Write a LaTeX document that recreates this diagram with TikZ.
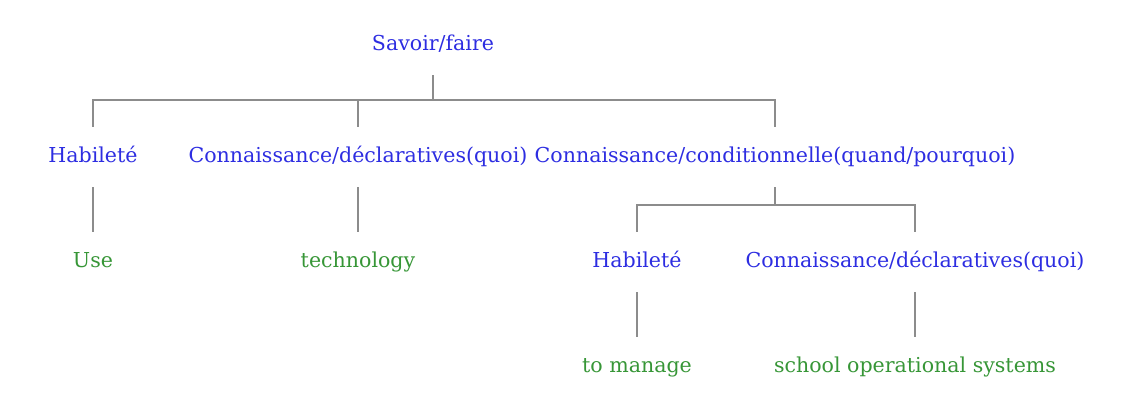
\documentclass[tikz,border=0pt]{standalone}
\usepackage{fontspec}
\setmainfont{DejaVu Serif}
\usepackage{tikz}

\definecolor{termblue}{RGB}{45,45,225}
\definecolor{termgreen}{RGB}{55,150,55}
\definecolor{linegray}{RGB}{140,140,140}

\tikzset{
	term/.style={text=termblue, inner xsep=0pt, inner ysep=12.4pt, text height=1.5ex, text depth=.25ex, font=\fontsize{11.7}{13}\selectfont},
	leaf/.style={term, text=termgreen},
	edge/.style={draw=linegray, line width=0.9pt}
}

\begin{document}
\begin{tikzpicture}[x=0.02cm, y=-0.02cm]
\useasboundingbox (0,0) rectangle (1132,397);

% top
\node[term] (savoir) at (433,45) {Savoir/faire};
\coordinate (j0) at (433,100);

% second row
\node[term] (hab1) at (93,157) {Habileté};
\node[term] (decl1) at (358,157) {Connaissance/déclaratives(quoi)};
\node[term] (cond) at (775,157) {Connaissance/conditionnelle(quand/pourquoi)};
\coordinate (j1) at (775,205);

% third row
\node[leaf] (use) at (93,262) {Use};
\node[leaf] (tech) at (358,262) {technology};
\node[term] (hab2) at (637,262) {Habileté};
\node[term] (decl2) at (915,262) {Connaissance/déclaratives(quoi)};

% bottom
\node[leaf] (manage) at (637,367) {to manage};
\node[leaf] (school) at (915,367) {school operational systems};

\draw[edge] (savoir) -- (j0);
\foreach \n in {hab1, decl1, cond}{
	\draw[edge] (j0) -| (\n);
}
\draw[edge] (cond) -- (j1);
\foreach \n in {hab2, decl2}{
	\draw[edge] (j1) -| (\n);
}
\draw[edge] (hab1) -- (use);
\draw[edge] (decl1) -- (tech);
\draw[edge] (hab2) -- (manage);
\draw[edge] (decl2) -- (school);

\end{tikzpicture}
\end{document}
